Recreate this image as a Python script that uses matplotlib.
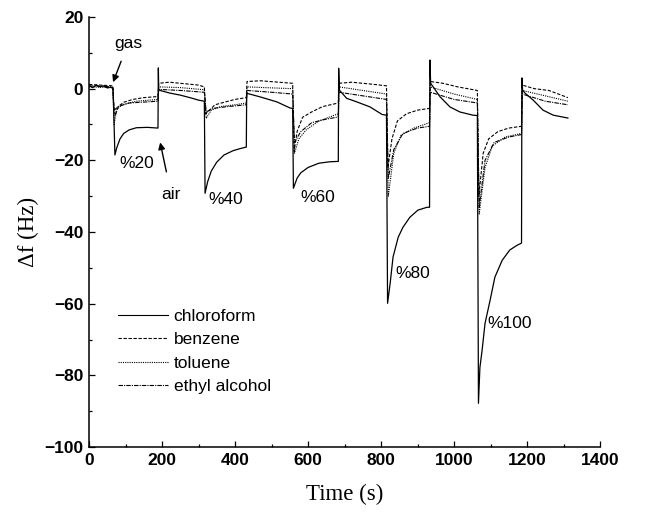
import matplotlib
matplotlib.use("Agg")
import matplotlib.pyplot as plt
from matplotlib.ticker import MultipleLocator

# ---------------- data ----------------
t_chloroform = [0, 10, 20, 30, 40, 50, 60, 66, 71, 76, 85, 95, 110, 130, 160, 189,
                190, 191, 195, 220, 250, 280, 300, 316,
                318, 325, 335, 350, 370, 395, 415, 431,
                432, 440, 469, 515, 551, 558,
                560, 570, 580, 600, 630, 660, 683,
                684, 686, 706, 734, 770, 803, 815,
                818, 825, 833, 847, 860, 879, 901, 926, 933,
                934, 936, 943, 962, 989, 1016, 1052, 1064,
                1067, 1071, 1077, 1085, 1099, 1112, 1132, 1153, 1173, 1185,
                1186, 1188, 1195, 1217, 1244, 1272, 1312]
df_chloroform = [0.8, 0.3, 1.0, 0.5, 0.8, 0.2, 0.4, 0.0, -18.5, -16.5, -14.0, -12.5, -11.5, -10.9, -10.8, -11.0,
                 5.8, -0.3, -0.5, -1.2, -1.8, -2.6, -3.2, -3.5,
                 -29.2, -26.0, -23.0, -20.5, -18.5, -17.3, -16.7, -16.3,
                 -1.3, -1.5, -2.3, -3.7, -5.4, -5.5,
                 -27.8, -25.0, -23.5, -22.0, -20.8, -20.4, -20.3,
                 5.7, -0.4, -2.7, -3.7, -5.1, -7.2, -7.4,
                 -59.9, -54.4, -47.0, -41.5, -38.7, -35.9, -33.9, -33.1, -33.1,
                 8.0, 1.5, 0.5, -2.3, -5.1, -6.5, -7.4, -7.5,
                 -87.8, -77.8, -73.0, -65.5, -59.0, -52.6, -47.9, -45.0, -43.7, -43.1,
                 3.0, -0.4, -1.3, -3.2, -6.0, -7.4, -8.2]

t_benzene = [0, 30, 65, 68, 72, 80, 95, 120, 150, 189,
             191, 220, 260, 300, 316,
             320, 330, 345, 370, 400, 431,
             433, 470, 520, 558,
             562, 570, 585, 610, 640, 683,
             685, 720, 780, 815,
             819, 830, 845, 870, 900, 933,
             935, 970, 1010, 1064,
             1068, 1080, 1095, 1120, 1150, 1185,
             1187, 1220, 1260, 1312]
df_benzene = [1.2, 1.0, 0.8, -5.0, -7.5, -5.0, -3.8, -3.0, -2.5, -2.2,
              1.5, 1.8, 1.4, 1.0, 0.5,
              -7.0, -6.0, -4.5, -3.8, -3.0, -2.5,
              2.0, 2.2, 1.8, 1.5,
              -17.5, -12.0, -8.0, -6.5, -5.0, -4.0,
              1.5, 1.8, 1.2, 0.8,
              -22.0, -14.0, -9.0, -7.0, -6.0, -5.5,
              2.0, 1.5, 0.5, -0.5,
              -30.0, -18.0, -14.0, -12.0, -11.0, -10.5,
              1.0, 0.0, -0.5, -2.5]

t_toluene = [0, 65, 69, 75, 90, 130, 189,
             191, 250, 316,
             321, 335, 360, 400, 431,
             433, 480, 558,
             563, 575, 595, 630, 683,
             685, 750, 815,
             820, 835, 855, 890, 933,
             935, 1000, 1064,
             1069, 1085, 1105, 1140, 1185,
             1187, 1250, 1312]
df_toluene = [0.5, 0.3, -10.0, -6.0, -4.5, -3.5, -3.0,
              0.5, 0.3, -0.3,
              -8.3, -6.0, -5.0, -4.5, -4.0,
              0.5, 0.3, 0.0,
              -18.0, -14.0, -11.5, -9.0, -7.0,
              0.5, -0.5, -1.5,
              -30.0, -18.0, -13.0, -11.0, -9.5,
              0.5, -1.5, -3.0,
              -35.0, -22.0, -16.0, -13.5, -12.5,
              -0.5, -2.0, -3.5]

t_ethanol = [0, 65, 69, 80, 110, 189,
             191, 250, 316,
             321, 340, 380, 431,
             433, 500, 558,
             563, 580, 610, 650, 683,
             685, 750, 815,
             820, 835, 860, 900, 933,
             935, 1000, 1064,
             1069, 1085, 1110, 1150, 1185,
             1187, 1250, 1312]
df_ethanol = [0.8, 0.5, -6.0, -5.0, -4.0, -3.5,
              -0.2, -0.5, -1.0,
              -6.5, -5.5, -5.0, -4.5,
              -0.5, -1.0, -1.5,
              -15.0, -12.0, -9.5, -8.5, -7.9,
              -1.0, -2.0, -3.0,
              -25.0, -17.0, -12.5, -11.0, -10.5,
              -1.0, -3.0, -4.0,
              -33.0, -20.0, -15.0, -13.5, -12.8,
              -1.5, -3.5, -4.5]

series_labels = ["chloroform", "benzene", "toluene", "ethyl alcohol"]
conc_labels = ["%20", "%40", "%60", "%80", "%100"]
conc_pos_t = [131, 375, 627, 886, 1153]
conc_pos_df = [-20.8, -31.0, -30.3, -51.6, -65.5]

# ---------------- figure ----------------
sans = ["Liberation Sans", "DejaVu Sans"]
serif = ["Liberation Serif", "DejaVu Serif"]
plt.rcParams["font.family"] = sans

fig = plt.figure(figsize=(6.51, 5.13), dpi=100)
ax = fig.add_axes([89 / 651, 1 - 447 / 513, 511 / 651, 430 / 513])

ax.plot(t_chloroform, df_chloroform, color="black", lw=0.9, ls="-", label=series_labels[0])
ax.plot(t_benzene, df_benzene, color="black", lw=0.8, ls=(0, (3, 1.5)), label=series_labels[1])
ax.plot(t_toluene, df_toluene, color="black", lw=0.8, ls=(0, (1, 1)), label=series_labels[2])
ax.plot(t_ethanol, df_ethanol, color="black", lw=0.8, ls=(0, (4, 1, 1, 1)), label=series_labels[3])

ax.set_xlim(0, 1400)
ax.set_ylim(-100, 20)
ax.xaxis.set_major_locator(MultipleLocator(200))
ax.xaxis.set_minor_locator(MultipleLocator(100))
ax.yaxis.set_major_locator(MultipleLocator(20))
ax.yaxis.set_minor_locator(MultipleLocator(10))

for s in ["top", "right"]:
    ax.spines[s].set_visible(False)
for s in ["left", "bottom"]:
    ax.spines[s].set_linewidth(1.1)

ax.tick_params(which="major", direction="in", length=4.5, width=0.9, pad=4,
               labelsize=12.5)
ax.tick_params(which="minor", direction="in", length=2.5, width=0.9)
for lab in ax.get_xticklabels() + ax.get_yticklabels():
    lab.set_fontweight("bold")

ax.set_xlabel("Time (s)", fontsize=16.5, family=serif, labelpad=12)
ax.set_ylabel("Δf (Hz)", fontsize=16.5, family=serif, labelpad=4)

leg = ax.legend(loc="upper left", bbox_to_anchor=(0.057, 0.322), frameon=False,
                fontsize=12.5, handlelength=2.9, handletextpad=0.3,
                labelspacing=0.48, borderpad=0, borderaxespad=0)
for h in leg.get_lines():
    h.set_linewidth(0.8)

for lab, tx, ty in zip(conc_labels, conc_pos_t, conc_pos_df):
    ax.text(tx, ty, lab, fontsize=12.5, ha="center", va="center")

ax.annotate("gas", xy=(66, 1.8), xytext=(107, 12.7), fontsize=12.5,
            ha="center", va="center",
            arrowprops=dict(arrowstyle="-|>", color="black", lw=1.0,
                            mutation_scale=10, shrinkA=6, shrinkB=0))
ax.annotate("air", xy=(195, -15), xytext=(225, -29.5), fontsize=12.5,
            ha="center", va="center",
            arrowprops=dict(arrowstyle="-|>", color="black", lw=1.0,
                            mutation_scale=10, shrinkA=9, shrinkB=0))

fig.savefig("out.png", dpi=100)
